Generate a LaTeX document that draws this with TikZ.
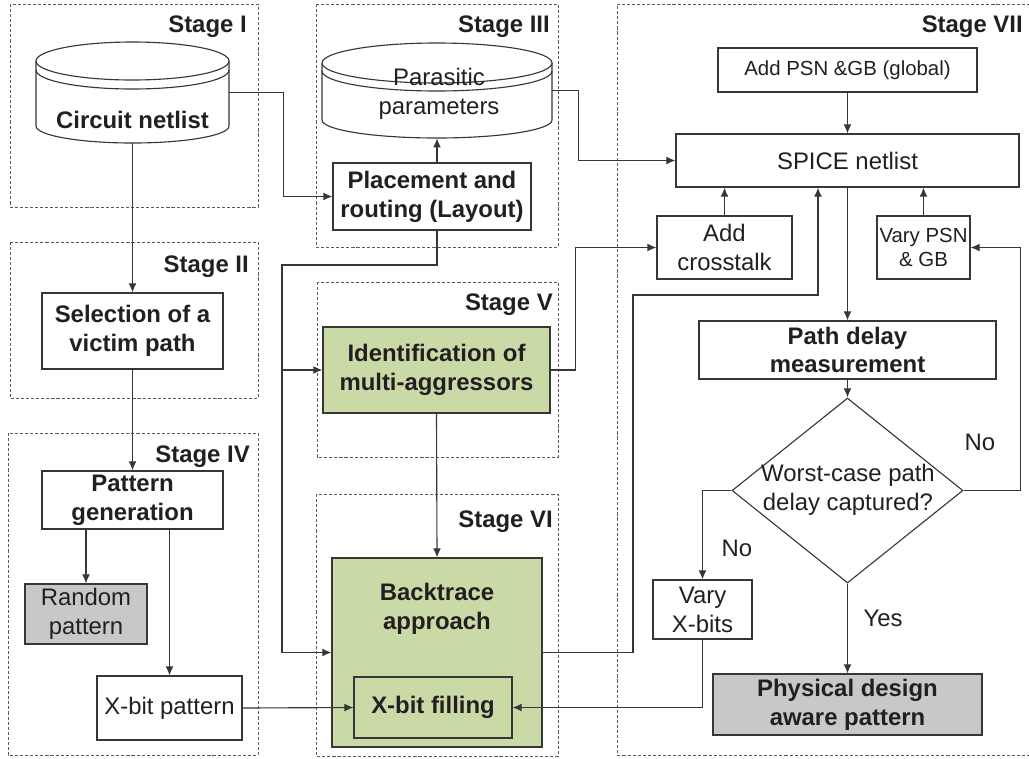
\documentclass[tikz,border=0pt]{standalone}
\usepackage{fontspec}
\setmainfont{Liberation Sans}
\usepackage{tikz}
\usetikzlibrary{arrows.meta,calc,shapes.geometric}

\definecolor{wiregray}{RGB}{55,55,55}
\definecolor{dashgray}{RGB}{90,90,90}
\definecolor{inkgray}{RGB}{35,31,32}
\definecolor{stagegreen}{RGB}{201,218,167}
\definecolor{outgray}{RGB}{200,200,200}

\newcommand{\mainsize}{\fontsize{17}{20.5}\selectfont}
\newcommand{\smallsize}{\fontsize{14.5}{17}\selectfont}

\tikzset{
  boxsize/.style 2 args={minimum width=#1*0.025cm, minimum height=#2*0.025cm},
  wire/.style={draw=wiregray, line width=0.8pt},
  arr/.style={wire, -{Latex[length=6.5pt,width=5.6pt]}},
  box/.style={draw=wiregray, line width=0.8pt, fill=white, inner sep=0pt,
    align=center, text=inkgray, font=\mainsize},
  bbox/.style={box, font=\mainsize\bfseries},
  smallbox/.style={box, font=\smallsize},
  greenbox/.style={box, fill=stagegreen, font=\mainsize\bfseries},
  greybox/.style={box, fill=outgray},
  decision/.style={diamond, draw=wiregray, line width=0.8pt, inner sep=0pt},
  plaintext/.style={inner sep=0pt, align=center, text=inkgray, font=\mainsize},
  boldtext/.style={plaintext, font=\mainsize\bfseries},
  stagebox/.style={draw=dashgray, dash pattern=on 2.2pt off 1.4pt, line width=0.6pt},
  stagelabel/.style={boldtext, anchor=base east},
}

\begin{document}
\begin{tikzpicture}[x=0.025cm, y=-0.025cm]
\useasboundingbox (0,0) rectangle (1029,758);

% stages
\draw[stagebox] (10,4) rectangle (258,207);
\draw[stagebox] (10,242) rectangle (258,398);
\draw[stagebox] (316,4) rectangle (558,247);
\draw[stagebox] (8,433) rectangle (258,755);
\draw[stagebox] (317,282) rectangle (558,457);
\draw[stagebox] (316,494) rectangle (558,756);
\draw[stagebox] (1035,4) -- (617,4) -- (617,755) -- (1035,755);

\node[stagelabel] at (247,32) {Stage I};
\node[stagelabel] at (249,272) {Stage II};
\node[stagelabel] at (550,32) {Stage III};
\node[stagelabel] at (250,462) {Stage IV};
\node[stagelabel] at (553,310) {Stage V};
\node[stagelabel] at (553,527) {Stage VI};
\node[stagelabel] at (1023,32) {Stage VII};

% circuit netlist
\draw[wire, fill=white] (36,61) -- (36,126) arc[start angle=180, end angle=0, x radius=96.5, y radius=17] -- (229,61);
\draw[wire, fill=white] (132.5,61) ellipse[x radius=96.5, y radius=19];
\draw[wire] (36,70) arc[start angle=180, end angle=0, x radius=96.5, y radius=19];
\node[inner sep=0pt, boxsize={193}{101}] (cn) at (132.5,92.5) {};
\node[boldtext] (cntext) at (132.5,120) {Circuit netlist};

% parasitic parameters
\draw[wire, fill=white] (322,63) -- (322,120) arc[start angle=180, end angle=0, x radius=115, y radius=18] -- (552,63);
\draw[wire, fill=white] (437,63) ellipse[x radius=115, y radius=20];
\draw[wire] (322,71) arc[start angle=180, end angle=0, x radius=115, y radius=20];
\node[inner sep=0pt, boxsize={230}{95}] (pp) at (437,90.5) {};
\node[plaintext] (pptext) at (439,94) {Parasitic\\parameters};

\node[bbox, boxsize={198}{67}] (pr) at (432,196.5) {Placement and\\routing (Layout)};
\node[bbox, boxsize={181}{76}] (sel) at (132.5,331) {Selection of a\\victim path};
\node[bbox, boxsize={181}{58}] (pg) at (132.5,500) {Pattern\\generation};
\node[greybox, boxsize={122}{60}] (rp) at (86,614) {Random\\pattern};
\node[box, boxsize={145}{64}] (xp) at (169.5,708) {X-bit pattern};

\node[greenbox, boxsize={227}{86}] (ia) at (436.5,370) {Identification of\\multi-aggressors};
\node[greenbox, boxsize={210}{189}] (bt) at (437,652.5) {};
\node[boldtext] (bttext) at (437,609) {Backtrace\\approach};
\node[greenbox, boxsize={158}{61}] (xf) at (433,707.5) {X-bit filling};

\node[smallbox, boxsize={259}{44}] (ad) at (847.5,70) {Add PSN \&GB (global)};
\node[box, boxsize={343}{53}] (sp) at (847.5,160.5) {SPICE netlist};
\node[box, boxsize={135}{63}] (ac) at (724.5,247.5) {Add\\crosstalk};
\node[smallbox, boxsize={93}{63}] (vp) at (923.5,247.5) {Vary PSN\\\& GB};
\node[bbox, boxsize={297}{58}] (pd) at (847.5,350) {Path delay\\measurement};
\node[decision, boxsize={231}{185}] (dm) at (847.5,490.5) {};
\node[plaintext] (dmtext) at (848,490) {Worst-case path\\delay captured?};
\node[box, boxsize={99}{59}] (vx) at (702.5,609.5) {Vary\\X-bits};
\node[greybox, font=\mainsize\bfseries, boxsize={269}{61}] (pa) at (847.5,704.5) {Physical design\\aware pattern};

% connectors
\coordinate (bus) at (282,265);
\coordinate (k1) at (633,295);
\coordinate (k2) at (818,295);

\draw[arr] (cn.east) -- ++(54,0) |- (pr.west);
\draw[arr] (cn.south) -- (sel.north);
\draw[arr] (sel.south) -- (pg.north);
\draw[arr] (rp.north |- pg.south) -- (rp.north);
\draw[arr] (xp.north |- pg.south) -- (xp.north);
\draw[arr] (xp.east) -- (xf.west);
\draw[arr] (pp.south |- pr.north) -- (pp.south);
\draw[arr] (pp.east) -- ++(26,0) |- (sp.west);
\draw[arr] (pp.south |- pr.south) |- (bus) |- (bt.west);
\draw[arr] (bus |- ia.west) -- (ia.west);
\draw[arr] (ia.east) -- ++(25,0) |- (ac.west);
\draw[arr] (ia.south) -- (bt.north);
\draw[arr] (bt.east) -| (k1) -- (k2) -- (k2 |- sp.south);
\draw[arr] (ad.south) -- (sp.north);
\draw[arr] (ac.north) -- (ac.north |- sp.south);
\draw[arr] (vp.north) -- (vp.north |- sp.south);
\draw[arr] (sp.south) -- (pd.north);
\draw[arr] (pd.south) -- (dm.north);
\draw[arr] (dm.east) -- ++(57,0) |- (vp.east);
\draw[arr] (dm.west) -| (vx.north);
\draw[arr] (dm.south) -- (pa.north);
\draw[arr] (vx.south) |- (xf.east);

\node[plaintext] at (980,442) {No};
\node[plaintext] at (737,548) {No};
\node[plaintext] at (883,618) {Yes};
\end{tikzpicture}
\end{document}
